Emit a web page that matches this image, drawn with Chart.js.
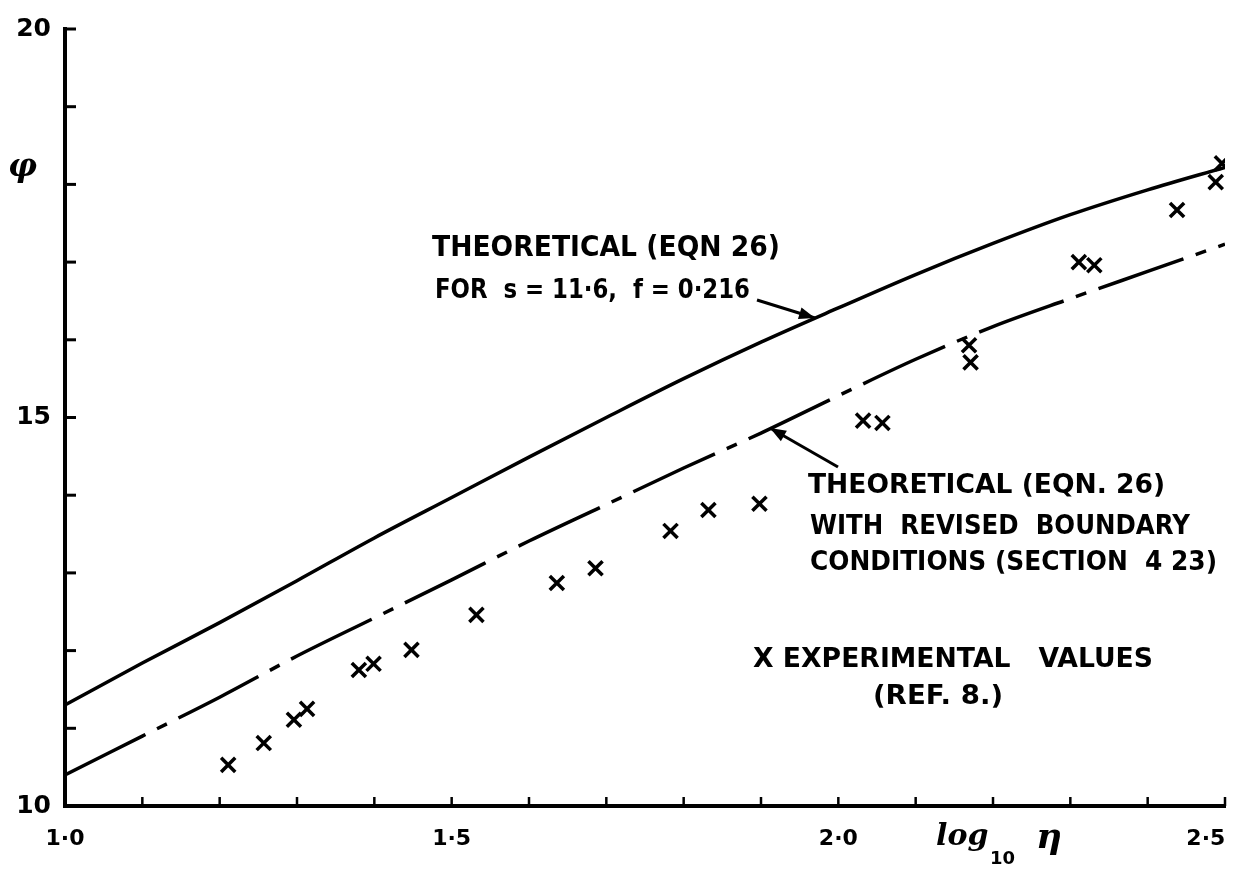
<!DOCTYPE html>
<html>
<head>
<meta charset="utf-8">
<script src="https://cdn.jsdelivr.net/npm/chart.js@4.4.0/dist/chart.umd.min.js"></script>
<style>
    html, body { margin: 0; padding: 0; background: #fff; }
    #wrap { width: 1241px; height: 870px; }
</style>
</head>
<body>
<div id="wrap"><canvas id="grafica" width="1241" height="870"></canvas></div>
<script>
// log10(eta) at which the two theory curves were read
const xCurva = [1.0, 1.1, 1.2, 1.3, 1.4, 1.5, 1.6, 1.7, 1.8, 1.9, 2.0, 2.1, 2.2, 2.3, 2.4, 2.5];
// theoretical (eqn 26), s = 11.6, f = 0.216
const teoricaSuperior = [11.30, 11.84, 12.36, 12.90, 13.45, 13.97, 14.49, 15.00, 15.50, 15.97, 16.41, 16.84, 17.24, 17.61, 17.93, 18.22];
// theoretical with revised boundary conditions
const teoricaRevisada = [10.40, 10.90, 11.40, 11.93, 12.42, 12.91, 13.41, 13.88, 14.35, 14.80, 15.28, 15.75, 16.17, 16.53, 16.88, 17.23];
// experimental values (ref. 8)
const expX = [1.211, 1.257, 1.296, 1.313, 1.380, 1.399, 1.448, 1.532, 1.636, 1.686, 1.783, 1.832, 1.898, 2.032, 2.057, 2.169, 2.171, 2.311, 2.331, 2.438, 2.488, 2.496];
const expY = [10.53, 10.81, 11.11, 11.25, 11.75, 11.83, 12.01, 12.46, 12.87, 13.06, 13.54, 13.81, 13.89, 14.96, 14.93, 15.93, 15.71, 17.00, 16.96, 17.67, 18.03, 18.27];

const xTickValues = [1.0, 1.5, 2.0, 2.5];
const xTickText = ['1·0', '1·5', '2·0', '2·5'];
const yTickValues = [10, 15, 20];
const yTickText = ['10', '15', '20'];

const fuente = '"DejaVu Sans"';

function puntos(xs, ys) {
    let res = [];
    for (let i = 0; i < xs.length; i++) {
        res.push({x: xs[i], y: ys[i]});
    }
    return res;
}

function etiqueta(valores, textos, v) {
    for (let i = 0; i < valores.length; i++) {
        if (Math.abs(valores[i] - v) < 1e-6) return textos[i];
    }
    return '';
}

// text squeezed/stretched to the width it has in the drawing
function textoAjustado(ctx, texto, x, cy, ancho, size) {
    ctx.save();
    ctx.font = 'bold ' + size + 'px ' + fuente;
    ctx.textBaseline = 'middle';
    ctx.textAlign = 'left';
    let m = ctx.measureText(texto).width;
    ctx.translate(x, cy);
    ctx.scale(ancho / m, 1);
    ctx.fillStyle = '#000';
    ctx.fillText(texto, 0, 0);
    ctx.restore();
}

function flecha(ctx, x0, y0, x1, y1) {
    ctx.save();
    ctx.strokeStyle = '#000';
    ctx.fillStyle = '#000';
    ctx.lineWidth = 3;
    ctx.beginPath();
    ctx.moveTo(x0, y0);
    ctx.lineTo(x1, y1);
    ctx.stroke();
    let ang = Math.atan2(y1 - y0, x1 - x0);
    ctx.translate(x1, y1);
    ctx.rotate(ang);
    ctx.beginPath();
    ctx.moveTo(0, 0);
    ctx.lineTo(-16, -6);
    ctx.lineTo(-16, 6);
    ctx.closePath();
    ctx.fill();
    ctx.restore();
}

const marcasInternas = {
    id: 'marcasInternas',
    afterDraw(chart) {
        const ctx = chart.ctx;
        const xs = chart.scales.x;
        const ys = chart.scales.y;
        const area = chart.chartArea;
        ctx.save();
        ctx.strokeStyle = '#000';
        ctx.lineWidth = 3;
        ys.ticks.forEach(t => {
            let py = ys.getPixelForValue(t.value);
            ctx.beginPath();
            ctx.moveTo(area.left, py);
            ctx.lineTo(area.left + 11, py);
            ctx.stroke();
        });
        ctx.lineWidth = 2.5;
        xs.ticks.forEach(t => {
            let px = xs.getPixelForValue(t.value);
            ctx.beginPath();
            ctx.moveTo(px, area.bottom);
            ctx.lineTo(px, area.bottom - 9);
            ctx.stroke();
        });
        ctx.restore();
    }
};

const textos = {
    id: 'textos',
    afterDraw(chart) {
        const ctx = chart.ctx;
        textoAjustado(ctx, 'THEORETICAL (EQN 26)', 432, 249, 348, 28);
        textoAjustado(ctx, 'FOR  s = 11·6,  f = 0·216', 435, 291, 315, 26);
        flecha(ctx, 757, 300, 815, 318);

        textoAjustado(ctx, 'THEORETICAL (EQN. 26)', 808, 486, 357, 27);
        textoAjustado(ctx, 'WITH  REVISED  BOUNDARY', 810, 527, 380, 27);
        textoAjustado(ctx, 'CONDITIONS (SECTION  4 23)', 810, 563, 407, 27);
        flecha(ctx, 838, 467, 770, 428);

        textoAjustado(ctx, 'X EXPERIMENTAL   VALUES', 753, 660, 400, 27);
        textoAjustado(ctx, '(REF. 8.)', 873, 697, 130, 27);

        ctx.save();
        ctx.fillStyle = '#000';
        ctx.textBaseline = 'alphabetic';
        ctx.font = 'italic bold 32px "DejaVu Serif"';
        ctx.fillText('φ', 8, 176);
        ctx.font = 'italic bold 30px "DejaVu Serif"';
        ctx.fillText('log', 936, 845);
        ctx.font = 'bold 18px "DejaVu Sans"';
        ctx.fillText('10', 990, 864);
        ctx.font = 'italic bold 36px "DejaVu Serif"';
        ctx.fillText('η', 1036, 848);
        ctx.restore();
    }
};

const ctx = document.getElementById('grafica');
const grafica = new Chart(ctx, {
    type: 'scatter',
    data: {
        datasets: [
            {
                type: 'line',
                label: 'Theoretical (eqn 26)',
                data: puntos(xCurva, teoricaSuperior),
                borderColor: '#000',
                borderWidth: 3.5,
                pointRadius: 0,
                cubicInterpolationMode: 'monotone',
                fill: false
            },
            {
                type: 'line',
                label: 'Theoretical, revised boundary conditions',
                data: puntos(xCurva, teoricaRevisada),
                borderColor: '#000',
                borderWidth: 3.5,
                borderDash: [90, 13, 11, 13],
                pointRadius: 0,
                cubicInterpolationMode: 'monotone',
                fill: false
            },
            {
                label: 'Experimental values',
                data: puntos(expX, expY),
                pointStyle: 'crossRot',
                pointRadius: 10,
                borderColor: '#000',
                borderWidth: 3.5
            }
        ]
    },
    options: {
        responsive: false,
        animation: false,
        devicePixelRatio: 1,
        layout: {padding: {top: 29, right: 16, left: 0, bottom: 0}},
        plugins: {
            legend: {display: false},
            tooltip: {enabled: false}
        },
        scales: {
            x: {
                type: 'linear',
                min: 1.0,
                max: 2.5,
                afterFit: s => {
                    s.height = 64;
                    s.paddingLeft = 0;
                    s.paddingRight = 0;
                },
                afterBuildTicks: s => {
                    let t = [];
                    for (let i = 0; i <= 15; i++) t.push({value: 1 + i / 10});
                    s.ticks = t;
                },
                grid: {display: true, drawOnChartArea: false, drawTicks: false, color: 'rgba(0,0,0,0)'},
                border: {display: true, color: '#000', width: 4},
                ticks: {
                    autoSkip: false,
                    maxRotation: 0,
                    padding: 20,
                    color: '#000',
                    font: {family: fuente, size: 22, weight: 'bold'},
                    callback: v => {
                        let txt = etiqueta(xTickValues, xTickText, v);
                        // last label sits inside the frame, as in the drawing
                        if (Math.abs(v - 2.5) < 1e-6) txt = txt + '     ';
                        return txt;
                    }
                }
            },
            y: {
                min: 10,
                max: 20,
                afterFit: s => {
                    s.width = 65;
                    s.paddingTop = 0;
                    s.paddingBottom = 0;
                },
                grid: {display: true, drawOnChartArea: false, drawTicks: false, color: 'rgba(0,0,0,0)'},
                border: {display: true, color: '#000', width: 4},
                ticks: {
                    stepSize: 1,
                    autoSkip: false,
                    padding: 14,
                    color: '#000',
                    font: {family: fuente, size: 25, weight: 'bold'},
                    callback: v => etiqueta(yTickValues, yTickText, v)
                }
            }
        }
    },
    plugins: [marcasInternas, textos]
});
</script>
</body>
</html>
